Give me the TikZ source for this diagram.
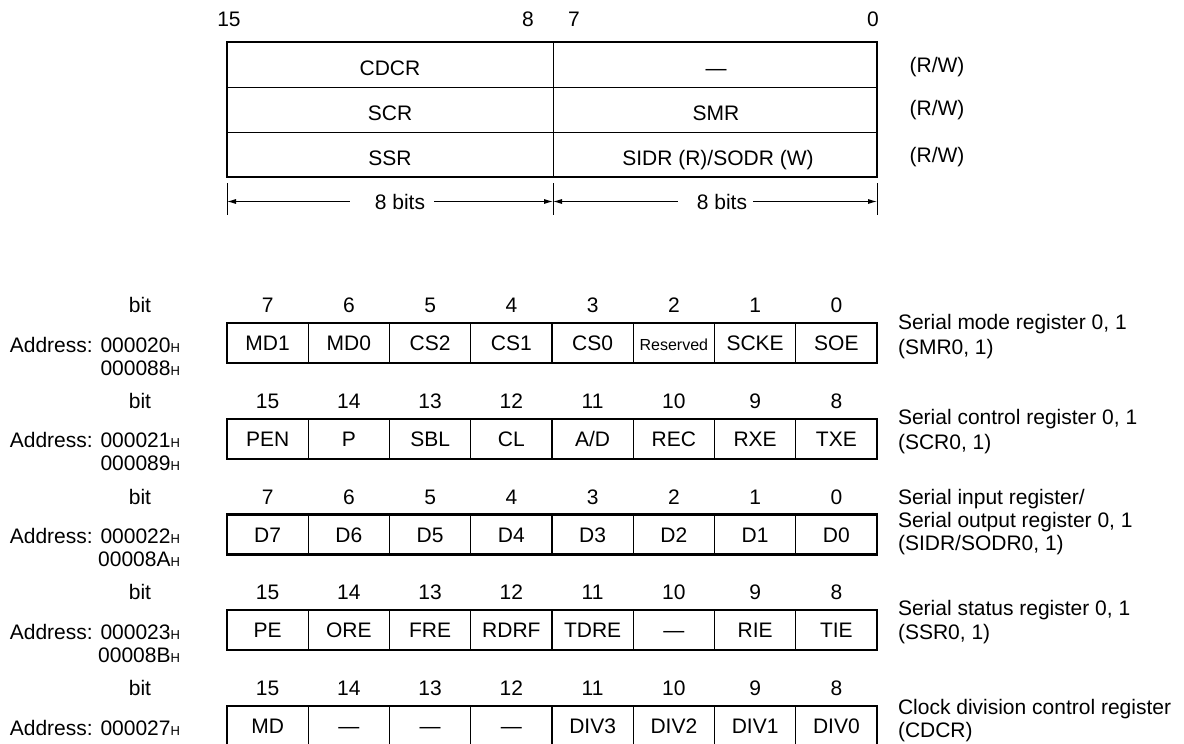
\documentclass[tikz,border=0pt]{standalone}
\usepackage{fontspec}
\setmainfont{Liberation Sans}
\usetikzlibrary{arrows.meta}
\newcommand\hsubx{{\fontsize{13}{13}\selectfont H}}
\newcommand\rsvtext{{\fontsize{16}{16}\selectfont Reserved}}
\begin{document}
\begin{tikzpicture}[x=1pt,y=-1pt,
  txt/.style={font=\fontsize{21}{24}\selectfont, anchor=base, inner sep=0pt, outer sep=0pt},
  ltxt/.style={txt, anchor=base west},
  rtxt/.style={txt, anchor=base east},
  heavy/.style={line width=2.2pt, line cap=rect},
  light/.style={line width=0.9pt},
  dimline/.style={line width=0.9pt},
  tip/.tip={Latex[length=9pt,width=5pt]}
]
\useasboundingbox (0,0) rectangle (1184,744);

% ---------- top overview table ----------
\node[txt] (t15) at (229,27) {15};
\node[txt] (t8)  at (528,27) {8};
\node[txt] (t7)  at (574,27) {7};
\node[txt] (t0)  at (873,27) {0};

\coordinate (TL) at (227,42);
\coordinate (BR) at (877,177);
\draw[light] (227,87) -- (877,87);
\draw[light] (227,132) -- (877,132);
\draw[light] (553,42) -- (553,177);
\draw[heavy] (TL) rectangle (BR);

\node[txt] (cdcr) at (390,75.5) {CDCR};
\node[txt] (dash) at (716,75.5) {—};
\node[txt] (scr)  at (390,120.5) {SCR};
\node[txt] (smr)  at (716,120.5) {SMR};
\node[txt] (ssr)  at (390,165.5) {SSR};
\node[txt] (sidr) at (718,165.5) {SIDR (R)/SODR (W)};

\node[txt] (rw1) at (937,72.5) {(R/W)};
\node[txt] (rw2) at (937,115.5) {(R/W)};
\node[txt] (rw3) at (937,162.5) {(R/W)};

% dimension lines
\coordinate (dL) at (227,201.5);
\coordinate (dM) at (553,201.5);
\coordinate (dR) at (877,201.5);
\coordinate (g1a) at (350,201.5);
\coordinate (g1b) at (434,201.5);
\coordinate (g2a) at (678,201.5);
\coordinate (g2b) at (753,201.5);
\draw[dimline] (227,183) -- (227,215);
\draw[dimline] (553,183) -- (553,215);
\draw[dimline] (877,183) -- (877,215);
\draw[dimline,{tip}-] (dL) -- (g1a);
\draw[dimline,-{tip}] (g1b) -- (dM);
\draw[dimline,{tip}-] (dM) -- (g2a);
\draw[dimline,-{tip}] (g2b) -- (dR);
\node[txt] (bits1) at (400,209) {8 bits};
\node[txt] (bits2) at (722,209) {8 bits};

% ---------- register rows ----------
\foreach \row/\top/\hi/\cells/\adra/\adrb in {
  1/323/7/{MD1,MD0,CS2,CS1,CS0,\rsvtext,SCKE,SOE}/000020/000088,
  2/418.75/15/{PEN,P,SBL,CL,A/D,REC,RXE,TXE}/000021/000089,
  3/514.5/7/{D7,D6,D5,D4,D3,D2,D1,D0}/000022/00008A,
  4/610.25/15/{PE,ORE,FRE,RDRF,TDRE,—,RIE,TIE}/000023/00008B,
  5/706/15/{MD,—,—,—,DIV3,DIV2,DIV1,DIV0}/000027/{}}
{
  \node[txt] (bit\row) at (140,\top-10.5) {bit};
  \node[rtxt] (adra\row) at (180,\top+29) {Address: \adra\hsubx};
  \ifx\adrb\empty\else
    \node[rtxt] (adrb\row) at (180,\top+52) {\adrb\hsubx};
  \fi
  \foreach [count=\k from 0] \t in \cells {
    \pgfmathtruncatemacro\bn{\hi-\k}
    \node[txt] (n\row-\k) at ({227+81.25*(\k+0.5)},\top-10.5) {\bn};
    \node[txt] (c\row-\k) at ({227+81.25*(\k+0.5)},\top+27.5) {\t};
  }
  \foreach \k in {1,3,5,7}
    \draw[light] ({227+81.25*\k},\top) -- ({227+81.25*\k},\top+40);
  \foreach \k in {2,4,6}
    \draw[line width=1.8pt] ({227+81.25*\k},\top) -- ({227+81.25*\k},\top+40);
  \draw[heavy] (227,\top) rectangle (877,\top+40);
}

% ---------- register descriptions ----------
\node[ltxt] (d1a) at (898,329.5) {Serial mode register 0, 1};
\node[ltxt] (d1b) at (898,354.5) {(SMR0, 1)};
\node[ltxt] (d2a) at (898,424.5) {Serial control register 0, 1};
\node[ltxt] (d2b) at (898,449.5) {(SCR0, 1)};
\node[ltxt] (d3a) at (898,504.5) {Serial input register/};
\node[ltxt] (d3b) at (898,527.5) {Serial output register 0, 1};
\node[ltxt] (d3c) at (898,550.5) {(SIDR/SODR0, 1)};
\node[ltxt] (d4a) at (898,615.5) {Serial status register 0, 1};
\node[ltxt] (d4b) at (898,639.5) {(SSR0, 1)};
\node[ltxt] (d5a) at (898,714.5) {Clock division control register};
\node[ltxt] (d5b) at (898,737.5) {(CDCR)};
\end{tikzpicture}
\end{document}
